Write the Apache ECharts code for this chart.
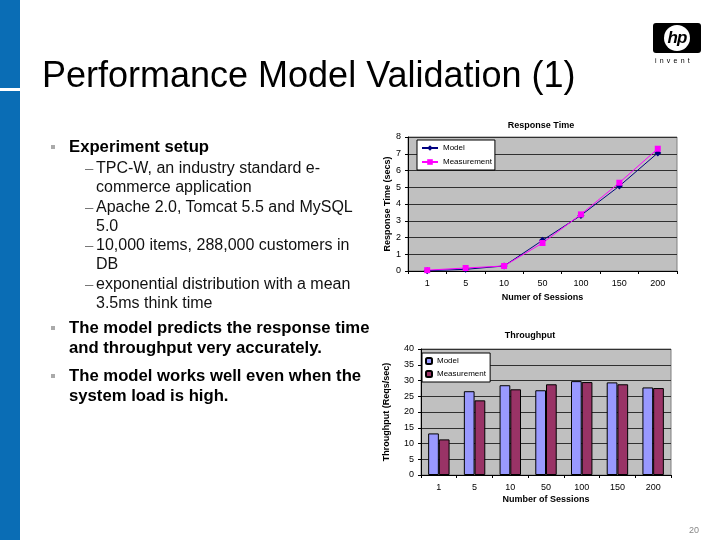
<!DOCTYPE html>
<html><head><meta charset="utf-8">
<script src="https://cdn.jsdelivr.net/npm/echarts@6/dist/echarts.min.js"></script>
<style>
html,body{margin:0;padding:0;background:#fff;}
body{width:720px;height:540px;position:relative;overflow:hidden;font-family:"Liberation Sans",Arial,sans-serif;color:#000;}
#chart{position:absolute;left:0;top:0;width:720px;height:540px;}
.abs{position:absolute;white-space:nowrap;}
#side{left:0;top:0;width:20px;height:540px;background:#0a6db5;}
#gap{left:0;top:88px;width:20px;height:3px;background:#fff;}
#title{left:42px;top:54px;font-size:36px;line-height:42px;}
.b1{font-size:16.7px;font-weight:bold;line-height:20px;}
.sub{font-size:16px;line-height:18.5px;color:#111;}
.sq{width:4px;height:4px;background:#aaa;}
.dash{font-size:15px;line-height:18.5px;color:#777;}
#logo{left:653px;top:23px;width:48px;height:30px;background:#000;border-radius:3px;}
#circle{left:664px;top:25px;width:26px;height:26px;background:#fff;border-radius:50%;}
#hp{left:666px;top:27px;width:22px;text-align:center;font-size:17px;font-style:italic;font-weight:bold;line-height:22px;letter-spacing:-1px;}
#inv{left:655px;top:57px;font-size:7px;letter-spacing:3.2px;color:#000;}
#pg{left:689px;top:525px;font-size:9px;color:#888;}
</style></head>
<body>
<div id="chart"></div>
<div class="abs" id="side"></div>
<div class="abs" id="gap"></div>
<div class="abs" id="title">Performance Model Validation (1)</div>

<div class="abs sq" style="left:51px;top:145px;"></div>
<div class="abs b1" style="left:69px;top:137px;">Experiment setup</div>

<div class="abs dash" style="left:85px;top:159px;">–</div>
<div class="abs sub" style="left:96px;top:159px;">TPC-W, an industry standard e-<br>commerce application</div>
<div class="abs dash" style="left:85px;top:198px;">–</div>
<div class="abs sub" style="left:96px;top:198px;">Apache 2.0, Tomcat 5.5 and MySQL<br>5.0</div>
<div class="abs dash" style="left:85px;top:236px;">–</div>
<div class="abs sub" style="left:96px;top:236px;">10,000 items, 288,000 customers in<br>DB</div>
<div class="abs dash" style="left:85px;top:275px;">–</div>
<div class="abs sub" style="left:96px;top:275px;">exponential distribution with a mean<br>3.5ms think time</div>

<div class="abs sq" style="left:51px;top:326px;"></div>
<div class="abs b1" style="left:69px;top:318px;">The model predicts the response time<br>and throughput very accurately.</div>
<div class="abs sq" style="left:51px;top:374px;"></div>
<div class="abs b1" style="left:69px;top:366px;">The model works well even when the<br>system load is high.</div>

<div class="abs" id="logo"></div>
<div class="abs" id="circle"></div>
<div class="abs" id="hp">hp</div>
<div class="abs" id="inv">invent</div>
<div class="abs" id="pg">20</div>

<script>
var sessions = ['1','5','10','50','100','150','200'];
var rtModel = [0.02, 0.1, 0.3, 1.83, 3.32, 5.07, 7.05];
var rtMeasured = [0.05, 0.18, 0.3, 1.67, 3.38, 5.27, 7.3];
var tpModel = [13.2, 26.6, 28.5, 26.9, 29.8, 29.4, 27.8];
var tpMeasured = [11.3, 23.7, 27.2, 28.8, 29.5, 28.8, 27.6];

var F = '"Liberation Sans", Arial, sans-serif';
var chart = echarts.init(document.getElementById('chart'));
function xAx(idx, name, gap){
  return {type:'category', gridIndex:idx, data:sessions, boundaryGap:true,
    axisLine:{lineStyle:{color:'#000',width:1}},
    axisTick:{show:true,length:3,lineStyle:{color:'#000'}},
    axisLabel:{fontFamily:F,fontSize:9,color:'#000',margin:8},
    name:name,nameLocation:'middle',nameGap:gap,
    nameTextStyle:{fontFamily:F,fontSize:9,fontWeight:'bold',color:'#000'}};
}
function yAx(idx, max, interval, name, gap){
  return {type:'value', gridIndex:idx, min:0, max:max, interval:interval,
    axisLine:{show:true,lineStyle:{color:'#000',width:1}},
    axisTick:{show:true,length:3,lineStyle:{color:'#000'}},
    axisLabel:{fontFamily:F,fontSize:9,color:'#000',margin:7},
    splitLine:{show:true,lineStyle:{color:'#303030',width:1}},
    name:name,nameLocation:'middle',nameGap:gap,
    nameTextStyle:{fontFamily:F,fontSize:9,fontWeight:'bold',color:'#000'}};
}
chart.setOption({
  animation:false,
  title:[
    {text:'Response Time',left:541,top:121,textAlign:'center',padding:0,
     textStyle:{fontFamily:F,fontSize:9,fontWeight:'bold',color:'#000'}},
    {text:'Throughput',left:530,top:331,textAlign:'center',padding:0,
     textStyle:{fontFamily:F,fontSize:9,fontWeight:'bold',color:'#000'}}
  ],
  grid:[
    {left:408,top:137,width:269,height:134,show:true,backgroundColor:'#c0c0c0',borderColor:'#808080',borderWidth:1},
    {left:421,top:349,width:250,height:126,show:true,backgroundColor:'#c0c0c0',borderColor:'#808080',borderWidth:1}
  ],
  legend:[
    {data:['Model','Measurement'],orient:'vertical',left:417,top:140,
     backgroundColor:'#fff',borderColor:'#000',borderWidth:1,padding:[4,3,4,4],itemGap:6,
     itemWidth:16,itemHeight:7,textStyle:{fontFamily:F,fontSize:8,color:'#000'}},
    {data:['Model ','Measurement '],orient:'vertical',left:422,top:353,
     backgroundColor:'#fff',borderColor:'#000',borderWidth:1,padding:[4,2,4,3],itemGap:5,
     itemWidth:6,itemHeight:6,textStyle:{fontFamily:F,fontSize:8,color:'#000'}}
  ],
  xAxis:[xAx(0,'Numer of Sessions',22), xAx(1,'Number of Sessions',20)],
  yAxis:[yAx(0,8,1,'Response Time (secs)',16), yAx(1,40,5,'Throughput (Reqs/sec)',30)],
  series:[
    {name:'Model',type:'line',xAxisIndex:0,yAxisIndex:0,data:rtModel,
     symbol:'diamond',symbolSize:7,color:'#000080',lineStyle:{width:1,color:'#000080'}},
    {name:'Measurement',type:'line',xAxisIndex:0,yAxisIndex:0,data:rtMeasured,
     symbol:'rect',symbolSize:6,color:'#ff00ff',lineStyle:{width:1,color:'#ff00ff'}},
    {name:'Model ',type:'bar',xAxisIndex:1,yAxisIndex:1,data:tpModel,
     barGap:'0%',barCategoryGap:'40%',
     itemStyle:{color:'#9999ff',borderColor:'#000',borderWidth:1}},
    {name:'Measurement ',type:'bar',xAxisIndex:1,yAxisIndex:1,data:tpMeasured,
     barGap:'0%',barCategoryGap:'40%',
     itemStyle:{color:'#993366',borderColor:'#000',borderWidth:1}}
  ]
});
</script>
</body></html>
